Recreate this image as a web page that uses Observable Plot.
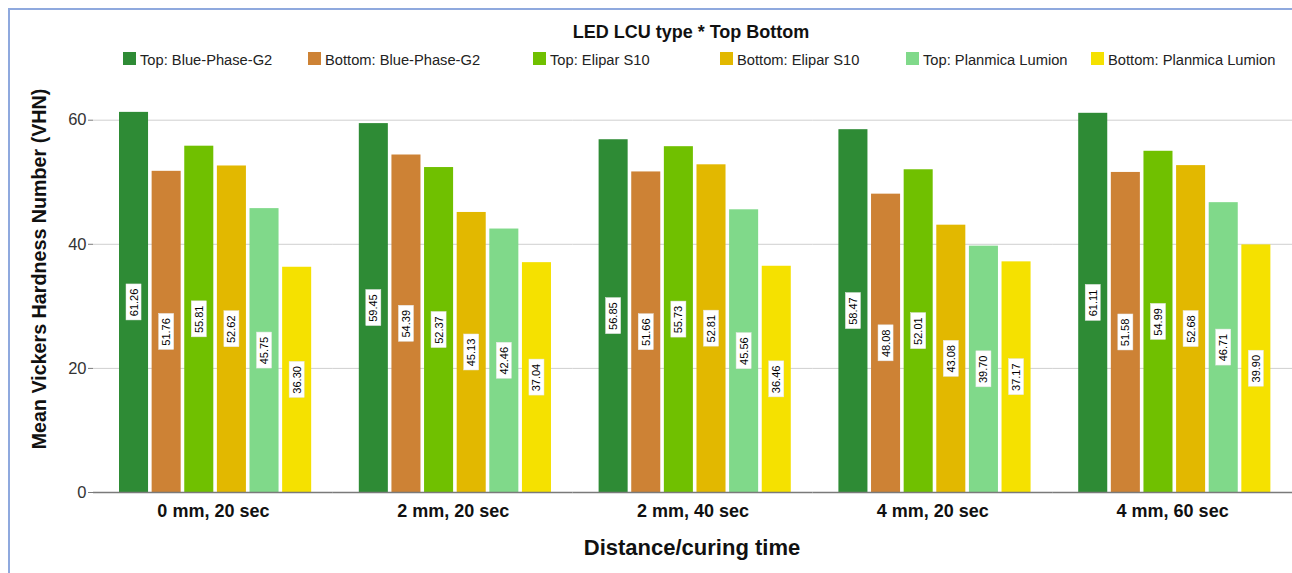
<!DOCTYPE html>
<html><head><meta charset="utf-8">
<script src="https://cdn.jsdelivr.net/npm/d3@7"></script>
<script src="https://cdn.jsdelivr.net/npm/@observablehq/plot@0.6"></script>
<style>
body{margin:0;background:#fff;font-family:"Liberation Sans",Arial,sans-serif;}
#wrap{position:relative;width:1292px;height:573px;overflow:hidden;background:#fff;}
#wrap svg{position:absolute;left:0;top:0;}
.bl{position:absolute;background:#8fa9de;}
.ov{position:absolute;line-height:1;white-space:nowrap;color:#111;}
#ytitle{font-size:19.7px;font-weight:bold;left:40px;top:269px;transform:translate(-50%,-50%) rotate(-90deg);}
#xtitle{font-size:22px;font-weight:bold;left:692px;top:536.5px;transform:translateX(-50%);}
#ltitle{font-size:18px;font-weight:bold;left:691px;top:22.5px;transform:translateX(-50%);}
.sw{position:absolute;width:13px;height:13px;top:52px;}
.lt{position:absolute;font-size:14.7px;top:52.5px;line-height:1;white-space:nowrap;color:#222;}
</style>
</head><body>
<div id="wrap">
</div>
<script>
const groups = ["0 mm, 20 sec", "2 mm, 20 sec", "2 mm, 40 sec", "4 mm, 20 sec", "4 mm, 60 sec"];
const series = ["Top: Blue-Phase-G2", "Bottom: Blue-Phase-G2", "Top: Elipar S10", "Bottom: Elipar S10", "Top: Planmica Lumion", "Bottom: Planmica Lumion"];
const topBluePhase = [61.26, 59.45, 56.85, 58.47, 61.11];
const bottomBluePhase = [51.76, 54.39, 51.66, 48.08, 51.58];
const topElipar = [55.81, 52.37, 55.73, 52.01, 54.99];
const bottomElipar = [52.62, 45.13, 52.81, 43.08, 52.68];
const topPlanmica = [45.75, 42.46, 45.56, 39.70, 46.71];
const bottomPlanmica = [36.30, 37.04, 36.46, 37.17, 39.90];
const yTicks = [0, 20, 40, 60];
const colors = ["#2e8b35", "#cd8235", "#70c000", "#e2b800", "#80d98a", "#f5e100"];
const legendLeft = [123, 308, 533, 720, 906, 1091];

const seriesValues = [topBluePhase, bottomBluePhase, topElipar, bottomElipar, topPlanmica, bottomPlanmica];
const data = [];
groups.forEach((g, gi) => series.forEach((s, si) => data.push({group: g, series: s, value: seriesValues[si][gi]})));

const font = '"Liberation Sans", Arial, sans-serif';
const narrow = '"Liberation Sans Narrow", "Arial Narrow", "Liberation Sans", Arial, sans-serif';

const plot = Plot.plot({
  width: 1292, height: 573,
  marginLeft: 93, marginRight: 0, marginTop: 8, marginBottom: 81,
  style: {fontFamily: font, background: "transparent", overflow: "visible"},
  fx: {domain: groups, padding: 0, round: false, label: null},
  x: {domain: series, paddingInner: 0.11, paddingOuter: 0.73, align: 0.546, round: false, axis: null},
  y: {domain: [0, 78], label: null},
  color: {domain: series, range: colors},
  marks: [
    Plot.gridY([20, 40, 60], {stroke: "#cfcfcf", strokeOpacity: 1}),
    Plot.barY(data, {fx: "group", x: "series", y: "value", fill: "series"}),
    Plot.ruleY([0], {stroke: "#7a7a7a", strokeWidth: 1.5}),
    Plot.barY(data, {fx: "group", x: "series", y1: d => d.value / 2 - 2.9, y2: d => d.value / 2 + 2.9, fill: "white", stroke: "#e6e6e6", strokeWidth: 0.5, insetLeft: 7, insetRight: 7}),
    Plot.text(data, {fx: "group", x: "series", y: d => d.value / 2, text: d => d.value.toFixed(2), rotate: -90, fontSize: 11, fill: "#000", fontFamily: narrow}),
    Plot.axisY(yTicks, {line: true, stroke: "#7a7a7a", fill: "#333", tickSize: 5, tickPadding: 2, fontSize: 16.5, label: null}),
    Plot.axisFx({anchor: "bottom", tickSize: 0, tickPadding: 12, fontSize: 18, fontWeight: "bold", fill: "#111", label: null})
  ]
});

const wrap = document.getElementById("wrap");
wrap.appendChild(plot);

function add(tag, cls, id, text) {
  const e = document.createElement(tag);
  if (cls) e.className = cls;
  if (id) e.id = id;
  if (text != null) e.textContent = text;
  wrap.appendChild(e);
  return e;
}
// blue frame border
const borderTop = add("div", "bl"); borderTop.style.cssText += "left:8px;top:8px;width:1290px;height:1.5px;";
const borderLeft = add("div", "bl"); borderLeft.style.cssText += "left:8px;top:8px;width:1.5px;height:570px;";

add("div", "ov", "ytitle", "Mean Vickers Hardness Number (VHN)");
add("div", "ov", "xtitle", "Distance/curing time");
add("div", "ov", "ltitle", "LED LCU type * Top Bottom");
series.forEach((s, i) => {
  const sw = add("div", "sw");
  sw.style.left = legendLeft[i] + "px";
  sw.style.background = colors[i];
  const t = add("div", "lt", null, s);
  t.style.left = (legendLeft[i] + 17) + "px";
});
</script>
</body></html>
